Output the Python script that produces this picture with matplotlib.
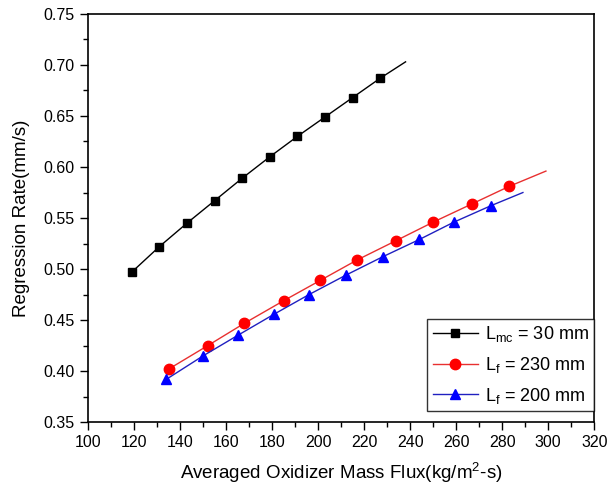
import matplotlib
matplotlib.use("Agg")
import matplotlib.pyplot as plt
from matplotlib.ticker import MultipleLocator

plt.rcParams["font.family"] = ["Liberation Sans", "DejaVu Sans"]
plt.rcParams["mathtext.fontset"] = "custom"
plt.rcParams["mathtext.rm"] = "Liberation Sans"

# L_mc = 30 mm
flux_mc = [119, 131, 143, 155, 167, 179, 191, 203, 215, 227]
rate_mc = [0.497, 0.522, 0.545, 0.567, 0.589, 0.610, 0.630, 0.649, 0.668, 0.687]
fit_x_mc = [119, 131, 143, 155, 167, 179, 191, 203, 215, 227, 238]
fit_y_mc = [0.497, 0.522, 0.545, 0.567, 0.589, 0.610, 0.630, 0.649, 0.668, 0.687, 0.703]

# L_f = 230 mm
flux_230 = [135, 152, 168, 185, 201, 217, 234, 250, 267, 283]
rate_230 = [0.402, 0.425, 0.447, 0.469, 0.489, 0.509, 0.528, 0.546, 0.564, 0.581]
fit_x_230 = [135, 152, 168, 185, 201, 217, 234, 250, 267, 283, 299]
fit_y_230 = [0.402, 0.425, 0.447, 0.469, 0.489, 0.509, 0.528, 0.546, 0.564, 0.581, 0.596]

# L_f = 200 mm
flux_200 = [134, 150, 165, 181, 196, 212, 228, 244, 259, 275]
rate_200 = [0.392, 0.415, 0.435, 0.456, 0.475, 0.494, 0.512, 0.529, 0.546, 0.562]
fit_x_200 = [134, 150, 165, 181, 196, 212, 228, 244, 259, 275, 289]
fit_y_200 = [0.392, 0.415, 0.435, 0.456, 0.475, 0.494, 0.512, 0.529, 0.546, 0.562, 0.575]

series = [
    (fit_x_mc, fit_y_mc, flux_mc, rate_mc, "black", "black", "s", 6, r"L$_{\mathregular{mc}}$ = 30 mm"),
    (fit_x_230, fit_y_230, flux_230, rate_230, "#e83030", "red", "o", 7.5, r"L$_{\mathregular{f}}$ = 230 mm"),
    (fit_x_200, fit_y_200, flux_200, rate_200, "#2020c0", "blue", "^", 7.5, r"L$_{\mathregular{f}}$ = 200 mm"),
]

fig = plt.figure(figsize=(6.07, 4.95), dpi=100)
ax = fig.add_axes([0.145, 0.147, 0.834, 0.825])

handles = []
for fx, fy, x, y, lc, mc, mk, ms, label in series:
    ax.plot(fx, fy, color=lc, linewidth=1.0)
    ax.plot(x, y, linestyle="none", marker=mk, markersize=ms, color=mc)
    h, = ax.plot([], [], color=lc, linewidth=1.0, marker=mk, markersize=ms,
                 markerfacecolor=mc, markeredgecolor=mc, label=label)
    handles.append(h)

ax.set_xlim(100, 320)
ax.set_ylim(0.35, 0.75)
ax.xaxis.set_major_locator(MultipleLocator(20))
ax.xaxis.set_minor_locator(MultipleLocator(10))
ax.yaxis.set_major_locator(MultipleLocator(0.05))
ax.yaxis.set_minor_locator(MultipleLocator(0.025))
ax.yaxis.set_major_formatter(plt.FormatStrFormatter("%.2f"))
ax.tick_params(which="major", direction="out", length=6, width=1, labelsize=11.5)
ax.tick_params(which="minor", direction="out", length=3.5, width=1)
for s in ax.spines.values():
    s.set_linewidth(1.2)

ax.set_xlabel(r"Averaged Oxidizer Mass Flux(kg/m$^{\mathregular{2}}$-s)", fontsize=13.5, labelpad=7)
ax.set_ylabel("Regression Rate(mm/s)", fontsize=13.5, labelpad=10)

leg = ax.legend(handles=handles, loc="lower right", bbox_to_anchor=(1.0, 0.027),
                fontsize=13, frameon=True, fancybox=False, edgecolor="black",
                handlelength=2.5, borderaxespad=0.0, borderpad=0.3,
                labelspacing=0.6, handletextpad=0.4)
leg.get_frame().set_linewidth(1.0)

fig.savefig("out.png", dpi=100)
